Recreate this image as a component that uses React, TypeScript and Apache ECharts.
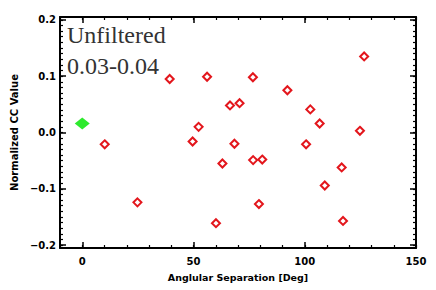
import React, { useEffect, useRef } from "react";
import * as echarts from "echarts";

const redX = [10.1, 24.8, 39.3, 49.6, 52.3, 56.1, 60.1, 63.0, 66.4, 68.4, 70.7, 76.7, 76.8, 79.4, 80.9, 92.2, 100.6, 102.5, 106.7, 109.0, 116.6, 117.2, 124.8, 126.7];
const redY = [-0.021, -0.124, 0.095, -0.016, 0.010, 0.099, -0.161, -0.055, 0.048, -0.020, 0.052, 0.098, -0.049, -0.127, -0.048, 0.075, -0.021, 0.041, 0.016, -0.094, -0.062, -0.157, 0.003, 0.135];
const greenX = [0];
const greenY = [0.016];

const xMajor = [0, 50, 100, 150];
const yMajor = [-0.2, -0.1, 0, 0.1, 0.2];
const yMinor = [-0.2, -0.19, -0.18, -0.17, -0.16, -0.15, -0.14, -0.13, -0.12, -0.11, -0.1, -0.09, -0.08, -0.07, -0.06, -0.05, -0.04, -0.03, -0.02, -0.01, 0, 0.01, 0.02, 0.03, 0.04, 0.05, 0.06, 0.07, 0.08, 0.09, 0.1, 0.11, 0.12, 0.13, 0.14, 0.15, 0.16, 0.17, 0.18, 0.19, 0.2];

const labelFont = { fontFamily: "DejaVu Sans", fontWeight: "bold" as const, fontSize: 10, color: "#000" };

export default function App() {
  const ref = useRef<HTMLDivElement>(null);
  useEffect(() => {
    if (!ref.current) return;
    const chart = echarts.init(ref.current, null, { renderer: "svg" });
    const lineOn = { show: true, onZero: false, lineStyle: { color: "#000", width: 2 } };
    const lineOff = { show: false, onZero: false };
    const minorTick = { show: true, inside: true, length: 3, lineStyle: { color: "#000", width: 1.2 } };
    const majorTickX = { show: true, inside: true, length: 6, customValues: xMajor, lineStyle: { color: "#000", width: 1.5 } };
    const majorTickY = { show: true, inside: true, length: 6, customValues: yMajor, lineStyle: { color: "#000", width: 1.5 } };
    const xBase = { type: "value" as const, min: -10, max: 150, splitLine: { show: false } };
    const yBase = { type: "value" as const, min: -0.205, max: 0.205, splitLine: { show: false } };
    const fmtY = (v: number) => {
      const s = Math.abs(v).toFixed(1);
      return v < -1e-9 ? "\u2212" + s : s;
    };
    chart.setOption({
      animation: false,
      backgroundColor: "#fff",
      grid: { left: 60, right: 20, top: 17, bottom: 42 },
      xAxis: [
        { ...xBase, position: "bottom", interval: 10, axisLine: lineOn, axisTick: minorTick, axisLabel: { show: false } },
        {
          ...xBase, position: "bottom", axisLine: lineOff, axisTick: majorTickX,
          axisLabel: { ...labelFont, customValues: xMajor, margin: 8 },
          name: "Anglular Separation [Deg]", nameLocation: "middle", nameGap: 24,
          nameTextStyle: { ...labelFont, fontSize: 9.5 },
        },
        { ...xBase, position: "top", interval: 10, axisLine: lineOn, axisTick: minorTick, axisLabel: { show: false } },
        { ...xBase, position: "top", axisLine: lineOff, axisTick: majorTickX, axisLabel: { show: false } },
      ],
      yAxis: [
        { ...yBase, position: "left", axisLine: lineOn, axisTick: { ...minorTick, customValues: yMinor }, axisLabel: { show: false } },
        {
          ...yBase, position: "left", axisLine: lineOff, axisTick: majorTickY,
          axisLabel: { ...labelFont, customValues: yMajor, margin: 4, formatter: fmtY },
          name: "Normalized CC Value", nameLocation: "middle", nameGap: 37,
          nameTextStyle: { ...labelFont, fontSize: 10 },
        },
        { ...yBase, position: "right", axisLine: lineOn, axisTick: { ...minorTick, customValues: yMinor }, axisLabel: { show: false } },
        { ...yBase, position: "right", axisLine: lineOff, axisTick: majorTickY, axisLabel: { show: false } },
      ],
      series: [
        {
          type: "scatter", xAxisIndex: 0, yAxisIndex: 0,
          data: redX.map((x, i) => [x, redY[i]]),
          symbol: "diamond", symbolSize: 8,
          itemStyle: { color: "#fff", borderColor: "#e3161c", borderWidth: 2, opacity: 1 },
        },
        {
          type: "scatter", xAxisIndex: 0, yAxisIndex: 0,
          data: greenX.map((x, i) => [x, greenY[i]]),
          symbol: "diamond", symbolSize: [15, 12],
          itemStyle: { color: "#2eea2e", opacity: 1 },
        },
      ],
      graphic: [
        { type: "text", left: 67, top: 23, style: { text: "Unfiltered", font: "24px 'Liberation Serif'", fill: "#333" } },
        { type: "text", left: 67, top: 54, style: { text: "0.03-0.04", font: "24px 'Liberation Serif'", fill: "#333" } },
      ],
    });
    return () => chart.dispose();
  }, []);
  return <div ref={ref} style={{ width: 436, height: 290, marginLeft: -8, marginTop: -8 }} />;
}
